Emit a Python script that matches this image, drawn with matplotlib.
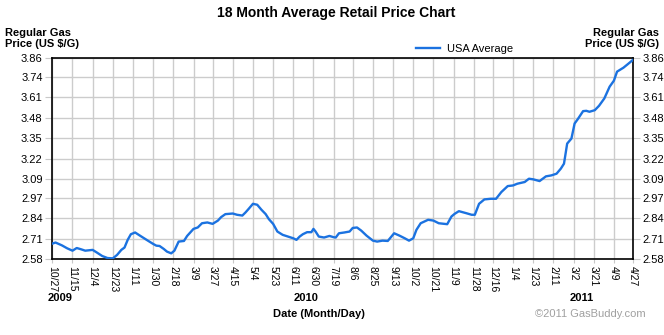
import matplotlib
matplotlib.use("Agg")
import matplotlib.pyplot as plt
import matplotlib.dates as mdates
import pandas as pd

plt.rcParams['font.family'] = ['Liberation Sans', 'DejaVu Sans']

# weekly-ish readings of the national average
dates = [
    "2009-10-27", "2009-10-30", "2009-11-05", "2009-11-10", "2009-11-15", "2009-11-19",
    "2009-11-23", "2009-11-27", "2009-12-04", "2009-12-08", "2009-12-13", "2009-12-18",
    "2009-12-23", "2009-12-27", "2009-12-31", "2010-01-03", "2010-01-06", "2010-01-09",
    "2010-01-13", "2010-01-18", "2010-01-25", "2010-01-30", "2010-02-02", "2010-02-05",
    "2010-02-09", "2010-02-12", "2010-02-16", "2010-02-19", "2010-02-23", "2010-02-28",
    "2010-03-03", "2010-03-09", "2010-03-13", "2010-03-17", "2010-03-22", "2010-03-27",
    "2010-04-01", "2010-04-04", "2010-04-08", "2010-04-15", "2010-04-19", "2010-04-24",
    "2010-04-27", "2010-04-30", "2010-05-04", "2010-05-08", "2010-05-12", "2010-05-16",
    "2010-05-19", "2010-05-23", "2010-05-27", "2010-06-01", "2010-06-06", "2010-06-11",
    "2010-06-14", "2010-06-17", "2010-06-20", "2010-06-24", "2010-06-28", "2010-06-30",
    "2010-07-02", "2010-07-05", "2010-07-10", "2010-07-15", "2010-07-19", "2010-07-21",
    "2010-07-24", "2010-07-29", "2010-08-03", "2010-08-06", "2010-08-10", "2010-08-14",
    "2010-08-19", "2010-08-25", "2010-08-29", "2010-09-03", "2010-09-08", "2010-09-14",
    "2010-09-19", "2010-09-24", "2010-09-28", "2010-10-02", "2010-10-05", "2010-10-09",
    "2010-10-16", "2010-10-21", "2010-10-26", "2010-11-03", "2010-11-07", "2010-11-10",
    "2010-11-14", "2010-11-21", "2010-11-26", "2010-11-29", "2010-12-03", "2010-12-08",
    "2010-12-14", "2010-12-19", "2010-12-24", "2010-12-30", "2011-01-04", "2011-01-08",
    "2011-01-15", "2011-01-19", "2011-01-23", "2011-01-29", "2011-02-04", "2011-02-09",
    "2011-02-14", "2011-02-18", "2011-02-21", "2011-02-24", "2011-02-28", "2011-03-03",
    "2011-03-06", "2011-03-11", "2011-03-14", "2011-03-17", "2011-03-22", "2011-03-26",
    "2011-03-31", "2011-04-05", "2011-04-09", "2011-04-12", "2011-04-18", "2011-04-22",
    "2011-04-27",
]
usa_avg = [
    2.678, 2.685, 2.667, 2.648, 2.633, 2.650,
    2.642, 2.633, 2.638, 2.621, 2.599, 2.586,
    2.584, 2.606, 2.638, 2.653, 2.702, 2.738,
    2.749, 2.727, 2.697, 2.676, 2.665, 2.663,
    2.644, 2.627, 2.616, 2.633, 2.691, 2.695,
    2.727, 2.772, 2.781, 2.808, 2.813, 2.804,
    2.825, 2.847, 2.866, 2.870, 2.862, 2.857,
    2.877, 2.900, 2.932, 2.926, 2.894, 2.866,
    2.834, 2.804, 2.755, 2.734, 2.723, 2.712,
    2.702, 2.723, 2.738, 2.751, 2.751, 2.772,
    2.755, 2.723, 2.717, 2.727, 2.719, 2.717,
    2.744, 2.749, 2.755, 2.778, 2.781, 2.761,
    2.729, 2.697, 2.691, 2.697, 2.695, 2.744,
    2.729, 2.712, 2.697, 2.712, 2.766, 2.808,
    2.830, 2.825, 2.808, 2.802, 2.851, 2.868,
    2.885, 2.872, 2.862, 2.862, 2.932, 2.960,
    2.964, 2.964, 3.007, 3.045, 3.049, 3.060,
    3.071, 3.092, 3.088, 3.077, 3.107, 3.113,
    3.124, 3.156, 3.188, 3.316, 3.348, 3.444,
    3.472, 3.523, 3.525, 3.519, 3.529, 3.557,
    3.604, 3.679, 3.717, 3.775, 3.800, 3.822,
    3.850,
]

tick_dates = [
    "2009-10-27", "2009-11-15", "2009-12-04", "2009-12-23", "2010-01-11", "2010-01-30",
    "2010-02-18", "2010-03-09", "2010-03-27", "2010-04-15", "2010-05-04", "2010-05-23",
    "2010-06-11", "2010-06-30", "2010-07-19", "2010-08-06", "2010-08-25", "2010-09-13",
    "2010-10-02", "2010-10-21", "2010-11-09", "2010-11-28", "2010-12-16", "2011-01-04",
    "2011-01-23", "2011-02-11", "2011-03-02", "2011-03-21", "2011-04-09", "2011-04-27",
]
tick_labels = [d[5:7].lstrip("0") + "/" + d[8:].lstrip("0") for d in tick_dates]
price_ticks = [2.58, 2.71, 2.84, 2.97, 3.09, 3.22, 3.35, 3.48, 3.61, 3.74, 3.86]
years = ["2009", "2010", "2011"]
year_pos = ["2009-11-03", "2010-06-23", "2011-03-10"]

x = pd.to_datetime(dates)
xt = pd.to_datetime(tick_dates)

fig = plt.figure(figsize=(6.64, 3.35), dpi=100)
ax = fig.add_axes([0.0788, 0.2269, 0.8745, 0.5991])

ax.plot(x, usa_avg, color="#1b72e0", lw=1.7, label="USA Average", zorder=3)

ax.set_xlim(xt[0], xt[-1])
ax.set_ylim(price_ticks[0], price_ticks[-1])
ax.set_xticks(xt)
ax.set_xticklabels(tick_labels, rotation=-90, fontsize=7.5)
ax.set_yticks(price_ticks)
ax.set_yticklabels([f"{v:.2f}" for v in price_ticks], fontsize=8)
ax.tick_params(axis="y", which="both", right=True, labelright=True,
               color="#c8c8c8", length=5, pad=2)
ax.tick_params(axis="x", color="#c8c8c8", length=3, pad=2)
ax.grid(True, color="#cccccc", lw=1)
ax.set_axisbelow(True)
for s in ax.spines.values():
    s.set_color("black")
    s.set_linewidth(1.2)

for yr, pos in zip(years, year_pos):
    ax.text(pd.Timestamp(pos), -0.195, yr, transform=ax.get_xaxis_transform(),
            ha="center", va="center", fontsize=8, fontweight="bold")

fig.text(0.506, 0.962, "18 Month Average Retail Price Chart", ha="center",
         va="center", fontsize=10, fontweight="bold")
fig.text(0.008, 0.885, "Regular Gas\nPrice (US $/G)", ha="left", va="center",
         fontsize=8, fontweight="bold", linespacing=1.1)
fig.text(0.992, 0.885, "Regular Gas\nPrice (US $/G)", ha="right", va="center",
         fontsize=8, fontweight="bold", linespacing=1.1)
fig.text(0.48, 0.062, "Date (Month/Day)", ha="center", va="center",
         fontsize=8, fontweight="bold")
fig.text(0.972, 0.062, "\u00a92011 GasBuddy.com", ha="right", va="center",
         fontsize=8, color="#a0a0a0")

ax.legend(loc="lower left", bbox_to_anchor=(0.618, 1.0), frameon=False,
          fontsize=8, handlelength=2.2, handletextpad=0.6, borderaxespad=0)

fig.savefig("out.png", dpi=100)
